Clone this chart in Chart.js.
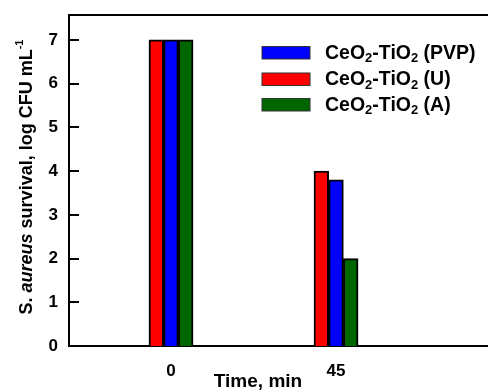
<!DOCTYPE html>
<html>
<head>
<meta charset="utf-8">
<script src="https://cdn.jsdelivr.net/npm/chart.js@4/dist/chart.umd.min.js"></script>
<style>
  html, body { margin: 0; padding: 0; background: #fff; }
  #wrap { width: 488px; height: 390px; }
</style>
</head>
<body>
<div id="wrap"><canvas id="c" width="488" height="390"></canvas></div>
<script>
// ---- data ----
const timeLabels = [0, 45];
const uValues = [7.0, 4.0];      // CeO2-TiO2 (U)   - red
const pvpValues = [7.0, 3.8];    // CeO2-TiO2 (PVP) - blue
const aValues = [7.0, 2.0];      // CeO2-TiO2 (A)   - green
const yTickValues = [0, 1, 2, 3, 4, 5, 6, 7];
const seriesSuffix = ['(U)', '(PVP)', '(A)'];
const seriesColors = ['#ff0000', '#0000ff', '#006600'];
const legendOrder = [1, 0, 2];

const FONT = "'Liberation Sans', Arial, sans-serif";

function pts(vals) { return timeLabels.map((t, i) => ({ x: t, y: vals[i] })); }
const seriesValues = [uValues, pvpValues, aValues];

const datasets = seriesValues.map((vals, i) => ({
  label: 'CeO2-TiO2 ' + seriesSuffix[i],
  data: pts(vals),
  backgroundColor: seriesColors[i],
  borderColor: '#000',
  borderWidth: 2,
  barThickness: 14.7,
  grouped: true
}));

const decorPlugin = {
  id: 'decor',
  afterDraw(chart) {
    const ctx = chart.ctx;
    const ca = chart.chartArea;
    const ys = chart.scales.y;
    ctx.save();
    // top frame line
    ctx.strokeStyle = '#000';
    ctx.lineWidth = 2;
    ctx.beginPath();
    ctx.moveTo(ca.left - 1, ca.top);
    ctx.lineTo(ca.right, ca.top);
    ctx.stroke();
    // inward y ticks
    yTickValues.forEach(v => {
      const y = Math.round(ys.getPixelForValue(v));
      ctx.beginPath();
      ctx.moveTo(ca.left, y);
      ctx.lineTo(ca.left + 10, y);
      ctx.stroke();
    });
    // y title with mixed styles
    const size = 18;
    const segs = [
      { t: 'S. ', f: 'bold ' + size + 'px ' + FONT, dy: 0 },
      { t: 'aureus', f: 'italic bold ' + size + 'px ' + FONT, dy: 0 },
      { t: ' survival, log CFU mL', f: 'bold ' + size + 'px ' + FONT, dy: 0 },
      { t: '-1', f: 'bold 11px ' + FONT, dy: -9 }
    ];
    let total = 0;
    segs.forEach(s => { ctx.font = s.f; s.w = ctx.measureText(s.t).width; total += s.w; });
    ctx.translate(32, 177 + total / 2);
    ctx.rotate(-Math.PI / 2);
    ctx.fillStyle = '#000';
    ctx.textBaseline = 'alphabetic';
    ctx.textAlign = 'left';
    let x = 0;
    segs.forEach(s => { ctx.font = s.f; ctx.fillText(s.t, x, s.dy); x += s.w; });
    ctx.restore();

    // x title
    ctx.save();
    ctx.fillStyle = '#000';
    ctx.font = 'bold 19px ' + FONT;
    ctx.textAlign = 'center';
    ctx.textBaseline = 'alphabetic';
    ctx.fillText('Time, min', 258, 387);
    ctx.restore();

    // legend
    ctx.save();
    const rowsY = [52.5, 79, 104.5];
    legendOrder.forEach((di, r) => {
      const cy = rowsY[r];
      ctx.fillStyle = seriesColors[di];
      ctx.fillRect(262, cy - 6, 48, 12.5);
      ctx.strokeStyle = '#333';
      ctx.lineWidth = 1;
      ctx.strokeRect(262, cy - 6, 48, 12.5);
      ctx.fillStyle = '#000';
      ctx.textBaseline = 'middle';
      ctx.textAlign = 'left';
      const big = 'bold 19.5px ' + FONT, sub = 'bold 13px ' + FONT;
      const parts = [
        { t: 'CeO', f: big, dy: 0 }, { t: '2', f: sub, dy: 5 },
        { t: '-TiO', f: big, dy: 0 }, { t: '2', f: sub, dy: 5 },
        { t: ' ' + seriesSuffix[di], f: big, dy: 0 }
      ];
      let px = 325;
      parts.forEach(p => { ctx.font = p.f; ctx.fillText(p.t, px, cy + 1 + p.dy); px += ctx.measureText(p.t).width; });
    });
    ctx.restore();
  }
};

new Chart(document.getElementById('c'), {
  type: 'bar',
  data: { datasets },
  plugins: [decorPlugin],
  options: {
    responsive: false,
    animation: false,
    devicePixelRatio: 1,
    layout: { padding: { top: 15, right: 0, left: 0, bottom: 0 } },
    plugins: { legend: { display: false }, tooltip: { enabled: false } },
    scales: {
      x: {
        type: 'linear',
        min: -27.82,
        max: 86.45,
        offset: false,
        grid: { display: false, drawTicks: false },
        border: { display: true, color: '#000', width: 2 },
        ticks: { color: '#000', font: { family: FONT, size: 17, weight: 'bold' }, padding: 15, maxRotation: 0 },
        afterBuildTicks: s => { s.ticks = timeLabels.map(v => ({ value: v })); },
        afterFit: s => { s.height = 44; s.paddingLeft = 0; s.paddingRight = 0; }
      },
      y: {
        min: 0,
        max: 7.57,
        grid: { display: false, drawTicks: false },
        border: { display: true, color: '#000', width: 2 },
        ticks: { color: '#000', font: { family: FONT, size: 17, weight: 'bold' }, padding: 11 },
        afterBuildTicks: s => { s.ticks = yTickValues.map(v => ({ value: v })); },
        afterFit: s => { s.width = 69; s.paddingTop = 0; s.paddingBottom = 0; }
      }
    }
  }
});
</script>
</body>
</html>
